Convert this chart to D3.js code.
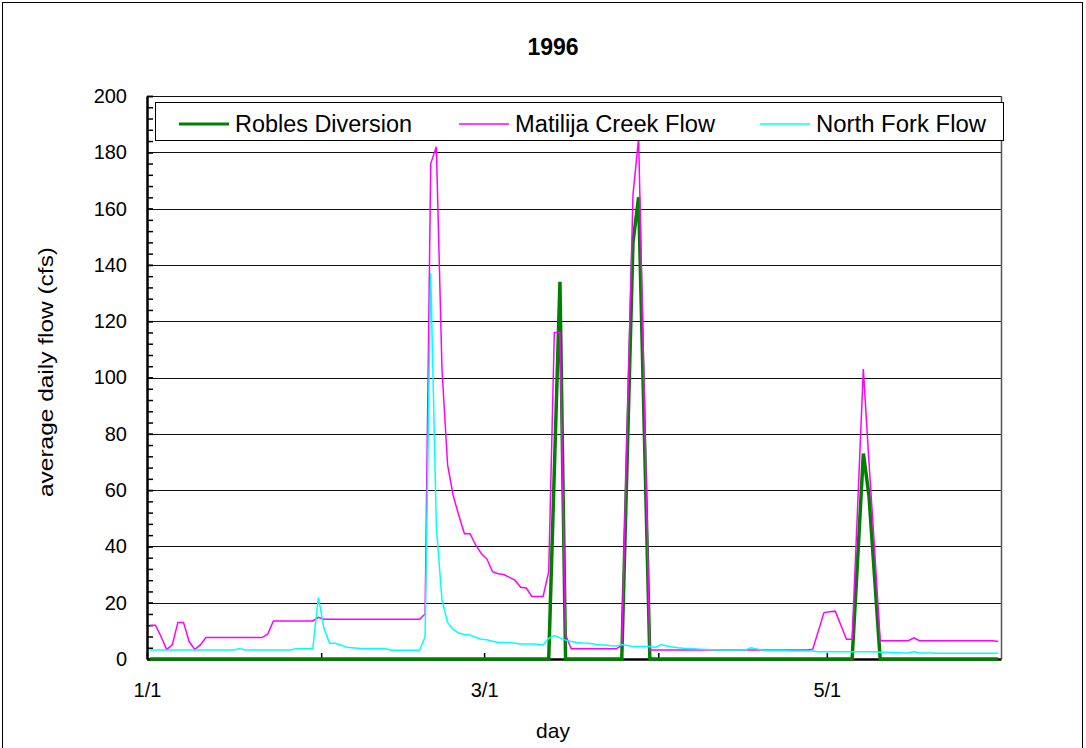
<!DOCTYPE html>
<html>
<head>
<meta charset="utf-8">
<script src="https://cdn.jsdelivr.net/npm/d3@7"></script>
<style>
    body { margin: 0; background: #fff; }
    svg { display: block; font-family: "Liberation Sans", Arial, sans-serif; }
</style>
</head>
<body>
<div id="chart"></div>
<script>
"use strict";

// daily values, Jan 1 .. May 31 1996 (index 0 = 1/1)
var robles = [
    0, 0, 0, 0, 0, 0, 0, 0, 0, 0,
    0, 0, 0, 0, 0, 0, 0, 0, 0, 0,
    0, 0, 0, 0, 0, 0, 0, 0, 0, 0,
    0, 0, 0, 0, 0, 0, 0, 0, 0, 0,
    0, 0, 0, 0, 0, 0, 0, 0, 0, 0,
    0, 0, 0, 0, 0, 0, 0, 0, 0, 0,
    0, 0, 0, 0, 0, 0, 0, 0, 0, 0,
    0, 0, 67, 134, 0, 0, 0, 0, 0, 0,
    0, 0, 0, 0, 0, 74, 148, 164, 82, 0,
    0, 0, 0, 0, 0, 0, 0, 0, 0, 0,
    0, 0, 0, 0, 0, 0, 0, 0, 0, 0,
    0, 0, 0, 0, 0, 0, 0, 0, 0, 0,
    0, 0, 0, 0, 0, 0, 36, 73, 58, 29,
    0, 0, 0, 0, 0, 0, 0, 0, 0, 0,
    0, 0, 0, 0, 0, 0, 0, 0, 0, 0,
    0, 0
];
var matilija = [
    12, 12, 8, 3.4, 5, 13, 13, 6.2, 3.4, 5,
    7.6, 7.6, 7.6, 7.6, 7.6, 7.6, 7.6, 7.6, 7.6, 7.6,
    7.6, 8.9, 13.5, 13.5, 13.5, 13.5, 13.5, 13.5, 13.5, 13.5,
    14.8, 14.1, 14.1, 14.1, 14.1, 14.1, 14.1, 14.1, 14.1, 14.1,
    14.1, 14.1, 14.1, 14.1, 14.1, 14.1, 14.1, 14.1, 14.1, 16,
    176, 182, 103, 69, 58, 51, 44.5, 44.5, 40.5, 37.5,
    35.5, 31, 30.3, 30, 29, 28, 25.5, 25.2, 22.2, 22.2,
    22.2, 31, 116, 116, 8.5, 3.6, 3.6, 3.6, 3.6, 3.6,
    3.6, 3.6, 3.6, 3.6, 4.8, 85, 165, 185, 94, 3.2,
    3.2, 3.2, 3.2, 3.2, 3.2, 3.2, 3.2, 3.2, 3.2, 3.2,
    3.2, 3.2, 3.2, 3.2, 3.2, 3.2, 3.2, 3.2, 3.2, 3.2,
    3.2, 3.2, 3.2, 3.2, 3.2, 3.2, 3.2, 3.2, 3.5, 10,
    16.5, 16.8, 17, 12, 7, 7, 55, 103, 70, 39,
    6.5, 6.5, 6.5, 6.5, 6.5, 6.5, 7.5, 6.5, 6.5, 6.5,
    6.5, 6.5, 6.5, 6.5, 6.5, 6.5, 6.5, 6.5, 6.5, 6.5,
    6.5, 6.2
];
var northFork = [
    3.2, 3.2, 3.2, 3.2, 3.2, 3.2, 3.2, 3.2, 3.2, 3.2,
    3.2, 3.2, 3.2, 3.2, 3.2, 3.2, 3.7, 3.2, 3.2, 3.2,
    3.2, 3.2, 3.2, 3.2, 3.2, 3.2, 3.6, 3.6, 3.6, 3.6,
    21.9, 10.9, 5.6, 5.6, 5.0, 4.2, 4.0, 3.8, 3.6, 3.6,
    3.6, 3.6, 3.6, 3.1, 3.1, 3.1, 3.1, 3.1, 3.1, 7.9,
    137, 47, 21, 13, 10.5, 9.2, 8.7, 8.5, 7.7, 7.0,
    6.8, 6.3, 5.9, 5.9, 5.9, 5.6, 5.3, 5.3, 5.3, 5.2,
    5.0, 7.3, 8.3, 7.5, 6.7, 6.2, 5.9, 5.7, 5.6, 5.3,
    5.0, 5.0, 4.7, 4.6, 5.1, 4.8, 4.4, 4.4, 4.4, 4.4,
    4.1, 5.1, 4.6, 4.3, 4.0, 3.8, 3.7, 3.6, 3.5, 3.4,
    3.3, 3.2, 3.2, 3.2, 3.2, 3.2, 3.2, 4.0, 3.6, 3.2,
    3.0, 3.0, 3.0, 3.0, 2.8, 2.8, 2.8, 2.8, 2.8, 2.6,
    2.6, 2.6, 2.6, 2.6, 2.6, 2.6, 2.6, 2.6, 2.6, 2.6,
    2.4, 2.4, 2.3, 2.2, 2.1, 2.1, 2.6, 2.1, 2.1, 2.1,
    2.0, 2.0, 2.0, 2.0, 2.0, 2.0, 2.0, 2.0, 2.0, 2.0,
    2.0, 2.0
];

var seriesNames = ["Robles Diversion", "Matilija Creek Flow", "North Fork Flow"];
var seriesColors = ["#008000", "#ff00ff", "#00ffff"];
var seriesWidths = [3.5, 1.5, 1.5];

var monthTicks = [0, 31, 60, 91, 121];          // day index of 1/1, 2/1, 3/1, 4/1, 5/1
var monthLabels = ["1/1", "", "3/1", "", "5/1"];
var yMajor = [0, 20, 40, 60, 80, 100, 120, 140, 160, 180, 200];

var width = 1086, height = 748;
var plot = { left: 147, right: 1001, top: 96, bottom: 659 };

var svg = d3.select("#chart").append("svg")
    .attr("width", width)
    .attr("height", height);

// chart border
svg.append("rect")
    .attr("x", 2.5).attr("y", 2.5)
    .attr("width", 1080).attr("height", 780)
    .attr("fill", "#fff")
    .attr("stroke", "#000");

var x = d3.scaleLinear().domain([0, 152]).range([plot.left, plot.right]);
var y = d3.scaleLinear().domain([0, 200]).range([plot.bottom, plot.top]);

// gridlines
svg.append("g")
    .selectAll("line")
    .data(yMajor.slice(1))
    .enter().append("line")
    .attr("x1", plot.left).attr("x2", plot.right)
    .attr("y1", function (d) { return Math.round(y(d)) + 0.5; })
    .attr("y2", function (d) { return Math.round(y(d)) + 0.5; })
    .attr("stroke", "#111")
    .attr("stroke-width", 1);

// plot area right border
svg.append("line")
    .attr("x1", plot.right + 0.5).attr("x2", plot.right + 0.5)
    .attr("y1", plot.top).attr("y2", plot.bottom)
    .attr("stroke", "#555").attr("stroke-width", 1.5);

// y minor ticks
svg.append("g")
    .attr("transform", "translate(" + plot.left + ",0)")
    .call(d3.axisLeft(y).tickValues(d3.range(0, 201, 4)).tickSize(-6).tickFormat(""))
    .call(function (g) {
        g.select(".domain").remove();
        g.selectAll("line").attr("stroke", "#000").attr("stroke-width", 1.5);
    });

// y axis
svg.append("g")
    .attr("transform", "translate(" + plot.left + ",0)")
    .call(d3.axisLeft(y).tickValues(yMajor).tickSize(-6).tickPadding(20).tickSizeOuter(0))
    .call(function (g) {
        g.select(".domain").attr("stroke", "#000").attr("stroke-width", 2.5);
        g.selectAll("line").attr("stroke", "#000").attr("stroke-width", 1.5);
        g.selectAll("text").attr("font-size", "20px").attr("fill", "#000")
            .attr("font-family", "Liberation Sans, Arial, sans-serif");
    });

// x axis
svg.append("g")
    .attr("transform", "translate(0," + plot.bottom + ")")
    .call(d3.axisBottom(x).tickValues(monthTicks).tickSize(-6).tickPadding(24).tickSizeOuter(0)
        .tickFormat(function (d, i) { return monthLabels[i]; }))
    .call(function (g) {
        g.select(".domain").attr("stroke", "#000").attr("stroke-width", 2.5);
        g.selectAll("line").attr("stroke", "#000").attr("stroke-width", 1.5);
        g.selectAll("text").attr("font-size", "20px").attr("fill", "#000")
            .attr("font-family", "Liberation Sans, Arial, sans-serif");
    });

// series
var line = d3.line()
    .x(function (d, i) { return x(i + 0.5); })
    .y(function (d) { return y(d); });

var allSeries = [robles, matilija, northFork];
svg.append("g")
    .selectAll("path")
    .data(allSeries)
    .enter().append("path")
    .attr("d", function (d) { return line(d); })
    .attr("fill", "none")
    .attr("stroke", function (d, i) { return seriesColors[i]; })
    .attr("stroke-width", function (d, i) { return seriesWidths[i]; })
    .attr("stroke-linejoin", "miter");

// legend
var legend = svg.append("g");
legend.append("rect")
    .attr("x", 155.5).attr("y", 102.5)
    .attr("width", 848).attr("height", 38)
    .attr("fill", "#fff")
    .attr("stroke", "#000");

var legendX = [179, 459, 760];
var legendTextW = [177, 200, 170];
var item = legend.selectAll("g.item")
    .data(seriesNames)
    .enter().append("g")
    .attr("class", "item")
    .attr("transform", function (d, i) { return "translate(" + legendX[i] + ",124)"; });
item.append("line")
    .attr("x1", 0).attr("x2", 50)
    .attr("stroke", function (d, i) { return seriesColors[i]; })
    .attr("stroke-width", function (d, i) { return i === 0 ? 3 : 1.5; });
item.append("text")
    .attr("x", 56).attr("y", 8)
    .attr("font-size", "23px")
    .attr("textLength", function (d, i) { return legendTextW[i]; })
    .attr("lengthAdjust", "spacingAndGlyphs")
    .text(function (d) { return d; });

// titles
svg.append("text")
    .attr("x", 553).attr("y", 55)
    .attr("text-anchor", "middle")
    .attr("font-size", "23px")
    .attr("font-weight", "bold")
    .text("1996");

svg.append("text")
    .attr("x", 553).attr("y", 738)
    .attr("text-anchor", "middle")
    .attr("font-size", "21px")
    .text("day");

svg.append("text")
    .attr("transform", "translate(53,372) rotate(-90)")
    .attr("text-anchor", "middle")
    .attr("font-size", "21px")
    .attr("textLength", 250)
    .attr("lengthAdjust", "spacingAndGlyphs")
    .text("average daily flow (cfs)");
</script>
</body>
</html>
